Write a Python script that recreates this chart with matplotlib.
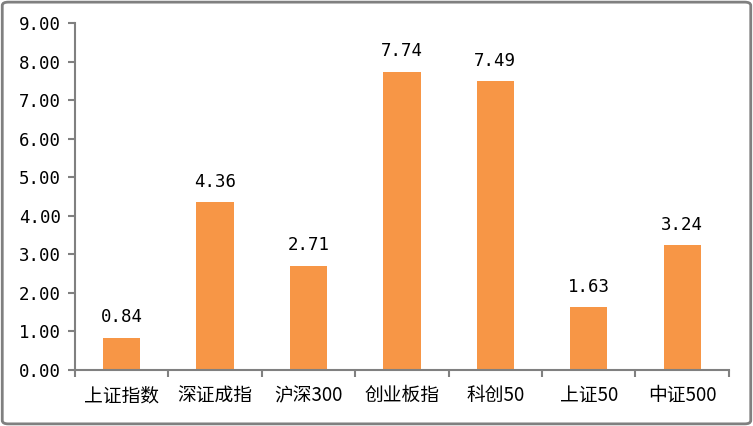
import matplotlib.pyplot as plt
from matplotlib.patches import FancyBboxPatch

plt.rcParams['font.family'] = ['Noto Sans CJK SC', 'DejaVu Sans']

categories = ['上证指数', '深证成指', '沪深300', '创业板指', '科创50', '上证50', '中证500']
values = [0.84, 4.36, 2.71, 7.74, 7.49, 1.63, 3.24]
yticks = [0, 1, 2, 3, 4, 5, 6, 7, 8, 9]

bar_color = '#F79646'
axis_color = '#808080'
num_font = ['DejaVu Sans Mono', 'Noto Sans CJK SC']

fig = plt.figure(figsize=(7.53, 4.26), dpi=100)
ax = fig.add_axes([0.0996, 0.1315, 0.8684, 0.8145])

x = range(len(categories))
bars = ax.bar(x, values, width=0.4, color=bar_color)

for b, v in zip(bars, values):
    ax.annotate(f'{v:.2f}', (b.get_x() + b.get_width() / 2, v),
                xytext=(0, 8), textcoords='offset points',
                ha='center', va='bottom', fontsize=12.5, color='black', family=num_font)

ax.set_xlim(-0.5, len(categories) - 0.5)
ax.set_ylim(0, 9)
ax.set_yticks(yticks)
ax.set_yticklabels([f'{t:.2f}' for t in yticks], fontsize=12.5, family=num_font)

# category ticks sit between bars
ax.set_xticks([i - 0.5 for i in range(len(categories) + 1)])
ax.set_xticklabels([])
ax.set_xticks(list(x), minor=True)
ax.set_xticklabels(categories, minor=True, fontsize=13.5)
ax.tick_params(axis='x', which='minor', length=0, pad=11)
ax.tick_params(axis='x', which='major', length=5, color=axis_color, width=1.5)
ax.tick_params(axis='y', length=5, color=axis_color, width=1.5, pad=5)

for s in ['top', 'right']:
    ax.spines[s].set_visible(False)
for s in ['left', 'bottom']:
    ax.spines[s].set_color(axis_color)
    ax.spines[s].set_linewidth(1.5)

# outer frame
frame = FancyBboxPatch((0.003, 0.005), 0.994, 0.99, boxstyle='round,pad=0,rounding_size=0.008',
                       transform=fig.transFigure, fill=False, edgecolor=axis_color, linewidth=2)
fig.patches.append(frame)

plt.savefig('out.png', dpi=100)
